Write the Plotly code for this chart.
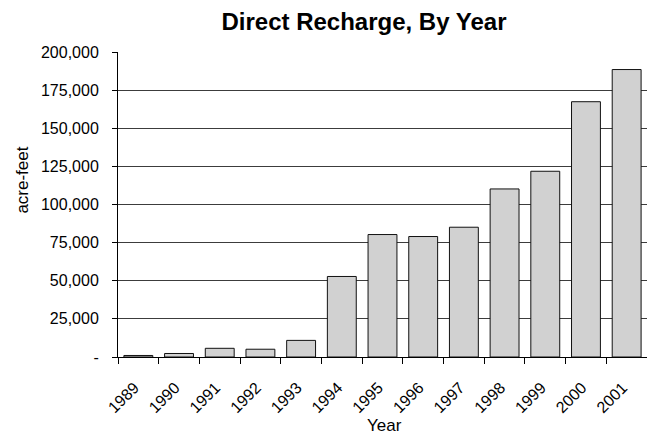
import plotly.graph_objects as go

# Annual direct recharge volumes (acre-feet)
years = ["1989", "1990", "1991", "1992", "1993", "1994", "1995",
         "1996", "1997", "1998", "1999", "2000", "2001"]
recharge = [1000, 2300, 5700, 5100, 10900, 52800, 80300,
            79000, 85100, 110200, 121800, 167400, 188500]

y_ticks = [0, 25000, 50000, 75000, 100000, 125000, 150000, 175000, 200000]
y_tick_text = ["-", "25,000", "50,000", "75,000", "100,000",
               "125,000", "150,000", "175,000", "200,000"]

font_family = "Liberation Sans, Arial, sans-serif"

fig = go.Figure(
    go.Bar(
        x=years,
        y=recharge,
        marker=dict(
            color="#c8c8c8",
            line=dict(color="#111111", width=1),
            pattern=dict(shape=".", size=2, solidity=0.5,
                         fgcolor="#9a9a9a", bgcolor="#e0e0e0"),
        ),
        showlegend=False,
    )
)

fig.update_layout(
    width=647,
    height=434,
    margin=dict(l=118, r=0, t=52, b=77),
    paper_bgcolor="white",
    plot_bgcolor="white",
    bargap=0.29,
    font=dict(family=font_family, color="black"),
    title=dict(
        text="<b>Direct Recharge, By Year</b>",
        font=dict(size=24, family=font_family, color="black"),
        xref="paper", x=0.465, xanchor="center",
        yref="container", y=0.95, yanchor="middle",
    ),
    annotations=[
        dict(text="Year", xref="paper", yref="paper",
             x=0.503, y=-0.223, xanchor="center", yanchor="middle",
             showarrow=False, font=dict(size=17)),
        dict(text="acre-feet", xref="paper", yref="paper",
             x=-0.1805, y=0.58, xanchor="center", yanchor="middle",
             textangle=-90, showarrow=False, font=dict(size=17)),
    ],
)

fig.update_xaxes(
    type="category",
    tickangle=-45,
    tickfont=dict(size=16),
    showline=True, linecolor="black", linewidth=1,
    ticks="outside", ticklen=6, tickcolor="black",
    tickson="boundaries",
    ticklabelstandoff=14,
    ticklabelshift=-4,
    showgrid=False,
)

fig.update_yaxes(
    range=[0, 200000],
    tickvals=y_ticks,
    ticktext=y_tick_text,
    tickfont=dict(size=16),
    showline=True, linecolor="black", linewidth=1,
    ticks="outside", ticklen=5, tickcolor="black",
    ticklabelstandoff=10,
    showgrid=True, gridcolor="#3c3c3c", gridwidth=1,
    zeroline=False,
)

fig.write_html("out.html")
